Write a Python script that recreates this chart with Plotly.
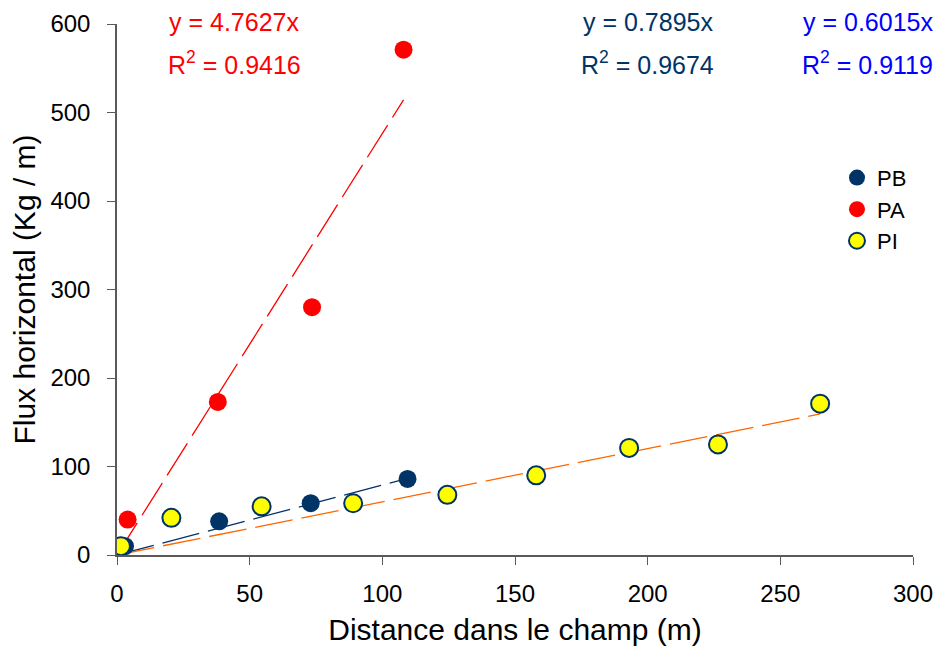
import plotly.graph_objects as go

pb_x = [3, 38.5, 73, 109.5]
pb_y = [10, 38, 58.5, 86]
pa_x = [4, 38, 73.5, 108]
pa_y = [40, 173, 280, 571]
pi_x = [1.5, 20.5, 54.5, 89, 124.5, 158, 193, 226.5, 265]
pi_y = [10, 42, 55, 58.5, 68, 90, 121, 125, 171]

pb_slope, pb_r2 = 0.7895, 0.9674
pa_slope, pa_r2 = 4.7627, 0.9416
pi_slope, pi_r2 = 0.6015, 0.9119

x_ticks = [0, 50, 100, 150, 200, 250, 300]
y_ticks = [0, 100, 200, 300, 400, 500, 600]

NAVY = "#003366"
RED = "#FF0000"
YEL = "#FFFF00"
ORANGE = "#FF6600"
BLUE = "#0000FF"
AXIS = "#5a5a5a"

fig = go.Figure()

def trend(xs, slope, color):
    xe = [0, max(xs)]
    fig.add_trace(go.Scatter(x=xe, y=[slope * v for v in xe], mode="lines",
                             line=dict(color=color, width=1.3, dash="38px,9px"),
                             showlegend=False, hoverinfo="skip"))

trend(pa_x, pa_slope, RED)
trend(pb_x, pb_slope, NAVY)
trend(pi_x, pi_slope, ORANGE)

fig.add_trace(go.Scatter(x=pb_x, y=pb_y, mode="markers", name="PB",
                         marker=dict(size=18, color=NAVY, line=dict(width=0))))
fig.add_trace(go.Scatter(x=pa_x, y=pa_y, mode="markers", name="PA",
                         marker=dict(size=18, color=RED, line=dict(width=0))))
fig.add_trace(go.Scatter(x=pi_x, y=pi_y, mode="markers", name="PI",
                         marker=dict(size=18, color=YEL, line=dict(width=2, color=NAVY))))

FONT = "Liberation Sans, Arial, sans-serif"

def eq(xp, slope, r2, color):
    fig.add_annotation(x=xp, y=1.004, xref="paper", yref="paper",
                       xanchor="center", yanchor="middle",
                       text=f"y = {slope}x", showarrow=False,
                       font=dict(size=25, color=color, family=FONT))
    fig.add_annotation(x=xp, y=0.927, xref="paper", yref="paper",
                       xanchor="center", yanchor="middle",
                       text=f"R<sup>2</sup> = {r2}", showarrow=False,
                       font=dict(size=25, color=color, family=FONT))

eq(0.147, pa_slope, pa_r2, RED)
eq(0.667, pb_slope, pb_r2, NAVY)
eq(0.943, pi_slope, pi_r2, BLUE)

fig.update_layout(
    width=942, height=650,
    paper_bgcolor="white", plot_bgcolor="white",
    margin=dict(l=109, r=37, t=16, b=103),
    font=dict(family=FONT, size=24, color="black"),
    legend=dict(x=0.9045, y=0.75, xanchor="left", yanchor="top",
                font=dict(size=22), itemwidth=30, tracegroupgap=0,
                bgcolor="rgba(0,0,0,0)"),
    showlegend=True,
)
fig.update_xaxes(range=[0, 300], tickvals=x_ticks,
                 showgrid=False, zeroline=False, showline=True, linecolor=AXIS,
                 linewidth=1.5, ticks="outside", ticklen=8, tickcolor=AXIS,
                 ticklabelstandoff=8, automargin=False,
                 tickfont=dict(size=24), title=dict(text="Distance dans le champ (m)",
                 font=dict(size=30), standoff=13))
fig.update_yaxes(range=[0, 600], tickvals=y_ticks,
                 showgrid=False, zeroline=False, showline=True, linecolor=AXIS,
                 linewidth=1.5, ticks="outside", ticklen=8, tickcolor=AXIS,
                 ticklabelstandoff=12, automargin=False,
                 tickfont=dict(size=24), title=dict(text="Flux horizontal (Kg / m)",
                 font=dict(size=30), standoff=10))

fig.write_html("out.html")
